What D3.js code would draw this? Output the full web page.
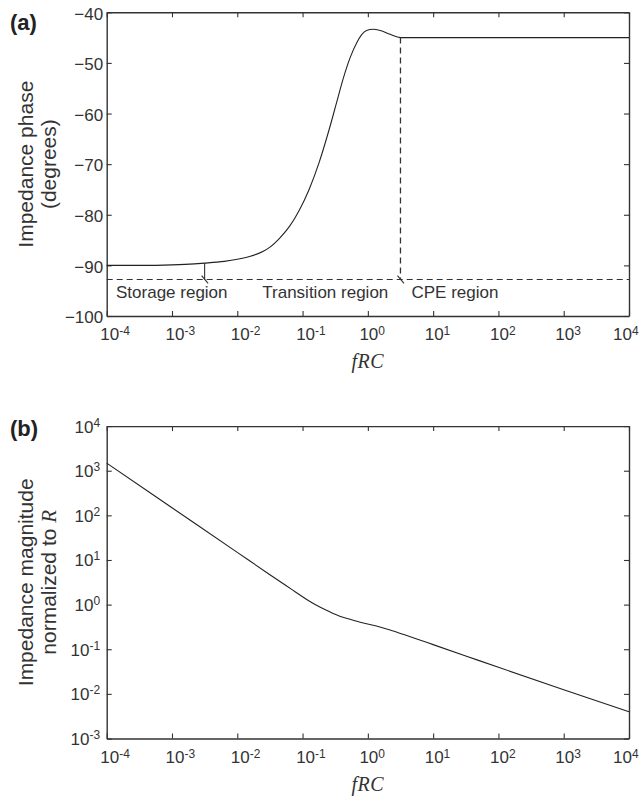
<!DOCTYPE html>
<html><head><meta charset="utf-8">
<script src="https://cdn.jsdelivr.net/npm/d3@7"></script>
<style>body{margin:0;background:#fff}</style>
</head><body>
<svg id="c" width="643" height="801"></svg>
<script>
// ---- data ----
const xTickValues = [1e-4, 1e-3, 1e-2, 1e-1, 1, 10, 100, 1000, 10000];
const phaseTickValues = [-100, -90, -80, -70, -60, -50, -40];
const magTickValues = [1e-3, 1e-2, 1e-1, 1, 10, 100, 1000, 10000];

const phaseFRC = [1e-4, 3.16e-4, 1e-3, 1.58e-3, 3.16e-3, 6.31e-3, 0.01, 0.0158, 0.0251, 0.0316, 0.0447, 0.0631, 0.0891, 0.126, 0.178, 0.251, 0.331, 0.417, 0.537, 0.676, 0.794, 0.955, 1.20, 1.55, 2.19, 3.16, 10, 100, 1000, 10000];
const phaseDeg = [-90.0, -90.0, -89.9, -89.8, -89.55, -89.2, -88.8, -88.2, -87.2, -86.4, -84.6, -82.3, -79.1, -75.0, -69.8, -63.5, -57.9, -53.2, -48.9, -46.0, -44.5, -43.6, -43.35, -43.6, -44.35, -45.0, -45.0, -45.0, -45.0, -45.0];

const magFRC = [1e-4, 1e-3, 1e-2, 0.0316, 0.0708, 0.1, 0.126, 0.166, 0.251, 0.372, 0.537, 0.794, 1.35, 2.19, 3.47, 5.62, 10, 31.6, 100, 1000, 10000];
const magVal = [1480, 148, 14.8, 4.68, 2.11, 1.50, 1.20, 0.955, 0.708, 0.550, 0.468, 0.398, 0.331, 0.269, 0.216, 0.170, 0.127, 0.0708, 0.0394, 0.0124, 0.00398];

const regionLabels = ["Storage region", "Transition region", "CPE region"];
const boundaryFRC = [0.00316, 3.16];
const boundaryPhase = [-89.55, -45];
const baselinePhase = -92.8;

// ---- layout ----
const svg = d3.select("#c");
const L = 106.7, R = 629, T1 = 12.3, B1 = 316, T2 = 426.1, B2 = 738.5;
const axisColor = "#333", textColor = "#333", lineColor = "#222";
const sans = "'Liberation Sans', Arial, Helvetica, sans-serif";
const serif = "'Liberation Serif', 'Times New Roman', serif";

const x = d3.scaleLog().domain([1e-4, 1e4]).range([L, R]);
const yP = d3.scaleLinear().domain([-100, -40]).range([B1, T1]);
const yM = d3.scaleLog().domain([1e-3, 1e4]).range([B2, T2]);

function styleAxis(g) {
  g.attr("font-family", sans).attr("font-size", 17);
  g.select(".domain").attr("stroke", axisColor).attr("stroke-width", 1.4);
  g.selectAll(".tick line").attr("stroke", axisColor).attr("stroke-width", 1.1);
  g.selectAll(".tick text").attr("fill", textColor);
}
function supText(e) { return e < 0 ? "-" + (-e) : String(e); }

function panel(y, yTicks, top, bottom, isLogY) {
  const gB = svg.append("g").attr("transform", `translate(0,${bottom})`)
    .call(d3.axisBottom(x).tickValues(xTickValues).tickSizeInner(-5).tickSizeOuter(0).tickFormat(""));
  styleAxis(gB);
  gB.selectAll(".tick").each(function (d) {
    const e = Math.round(Math.log10(d));
    const shift = e < 0 ? 2.5 : (e === 4 ? -7 : 0.5);
    const t = d3.select(this).select("text");
    t.text(null).attr("y", 24).attr("dy", null).attr("x", -9.45 + shift).attr("text-anchor", "start");
    t.append("tspan").text("10");
    t.append("tspan").attr("dy", -5).attr("font-size", 12).text(supText(e));
  });
  const gT = svg.append("g").attr("transform", `translate(0,${top})`)
    .call(d3.axisTop(x).tickValues(xTickValues).tickSizeInner(-5).tickSizeOuter(0).tickFormat(""));
  styleAxis(gT);
  let ax = d3.axisLeft(y).tickValues(yTicks).tickSizeInner(-5).tickSizeOuter(0).tickPadding(3.5);
  if (isLogY) ax = ax.tickFormat("");
  else ax = ax.tickFormat(d => d < 0 ? "\u2212" + (-d) : String(d));
  const gL = svg.append("g").attr("transform", `translate(${L},0)`).call(ax);
  styleAxis(gL);
  if (isLogY) {
    gL.selectAll(".tick").each(function (d) {
      const e = Math.round(Math.log10(d));
      const t = d3.select(this).select("text");
      t.text(null).attr("x", -6.5).attr("dy", "0.35em").attr("text-anchor", "end");
      t.append("tspan").text("10");
      t.append("tspan").attr("dy", -6).attr("font-size", 12).text(supText(e));
    });
  } else {
    gL.selectAll(".tick text").attr("dy", "0.4em");
  }
  const gR = svg.append("g").attr("transform", `translate(${R},0)`)
    .call(d3.axisRight(y).tickValues(yTicks).tickSizeInner(-5).tickSizeOuter(0).tickFormat(""));
  styleAxis(gR);
  svg.append("text").attr("x", (L + R) / 2).attr("y", bottom + 52).attr("text-anchor", "middle")
    .attr("font-family", serif).attr("font-style", "italic").attr("font-size", 20).attr("fill", textColor)
    .attr("letter-spacing", 0.5).text("fRC");
}

// ---- panel (a) ----
panel(yP, phaseTickValues, T1, B1, false);

const phaseData = phaseFRC.map((f, i) => [f, phaseDeg[i]]);
svg.append("path").datum(phaseData)
  .attr("d", d3.line().x(d => x(d[0])).y(d => yP(d[1])).curve(d3.curveMonotoneX))
  .attr("fill", "none").attr("stroke", lineColor).attr("stroke-width", 1.1);

const yBase = yP(baselinePhase);
svg.append("line").attr("x1", x(1e-4)).attr("x2", x(1e4)).attr("y1", yBase).attr("y2", yBase)
  .attr("stroke", axisColor).attr("stroke-width", 1.1).attr("stroke-dasharray", "6,4");
svg.append("line").attr("x1", x(boundaryFRC[0])).attr("x2", x(boundaryFRC[0]))
  .attr("y1", yP(boundaryPhase[0])).attr("y2", yBase).attr("stroke", axisColor).attr("stroke-width", 1.1);
svg.append("line").attr("x1", x(boundaryFRC[1])).attr("x2", x(boundaryFRC[1]))
  .attr("y1", yP(boundaryPhase[1])).attr("y2", yBase).attr("stroke", axisColor).attr("stroke-width", 1.3)
  .attr("stroke-dasharray", "6,4");
boundaryFRC.forEach(f => {
  const bx = x(f);
  svg.append("line").attr("x1", bx - 3).attr("y1", yBase - 4).attr("x2", bx + 3.5).attr("y2", yBase + 3.8)
    .attr("stroke", axisColor).attr("stroke-width", 1.1);
});
const labelX = [x(1e-4) + 9.3, x(boundaryFRC[0]) + 57.7, x(boundaryFRC[1]) + 11];
regionLabels.forEach((s, i) => {
  svg.append("text").attr("x", labelX[i]).attr("y", yBase + 18).attr("font-family", sans)
    .attr("font-size", 17).attr("fill", textColor).text(s);
});

const midA = (T1 + B1) / 2;
svg.append("text").attr("transform", `translate(33,${midA}) rotate(-90)`).attr("text-anchor", "middle")
  .attr("font-family", sans).attr("font-size", 21).attr("fill", textColor).text("Impedance phase");
svg.append("text").attr("transform", `translate(56,${midA}) rotate(-90)`).attr("text-anchor", "middle")
  .attr("font-family", sans).attr("font-size", 21).attr("fill", textColor).text("(degrees)");

// ---- panel (b) ----
panel(yM, magTickValues, T2, B2, true);
const magData = magFRC.map((f, i) => [f, magVal[i]]);
svg.append("path").datum(magData)
  .attr("d", d3.line().x(d => x(d[0])).y(d => yM(d[1])).curve(d3.curveMonotoneX))
  .attr("fill", "none").attr("stroke", lineColor).attr("stroke-width", 1.1);

const midB = (T2 + B2) / 2;
svg.append("text").attr("transform", `translate(33,${midB}) rotate(-90)`).attr("text-anchor", "middle")
  .attr("font-family", sans).attr("font-size", 21).attr("fill", textColor).text("Impedance magnitude");
const t2 = svg.append("text").attr("transform", `translate(56,${midB}) rotate(-90)`).attr("text-anchor", "middle")
  .attr("font-family", sans).attr("font-size", 21).attr("fill", textColor);
t2.append("tspan").text("normalized to ");
t2.append("tspan").attr("font-family", serif).attr("font-style", "italic").text("R");

svg.append("text").attr("x", 10).attr("y", 29.5).attr("font-family", sans).attr("font-weight", "bold")
  .attr("font-size", 22).attr("fill", "#222").text("(a)");
svg.append("text").attr("x", 10).attr("y", 436).attr("font-family", sans).attr("font-weight", "bold")
  .attr("font-size", 22).attr("fill", "#222").text("(b)");
</script>
</body></html>
